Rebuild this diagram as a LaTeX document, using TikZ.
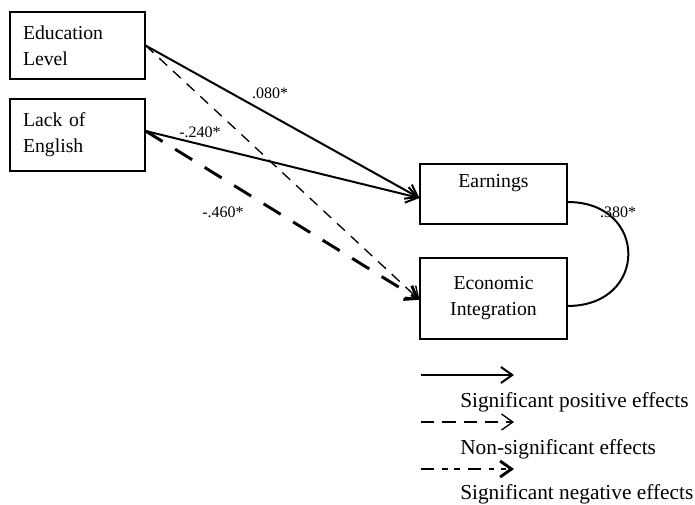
\documentclass[tikz,border=0pt]{standalone}
\usepackage{fontspec}
\setmainfont{Liberation Serif}
\usetikzlibrary{arrows.meta}

\begin{document}
\begin{tikzpicture}[x=0.75pt,y=-0.75pt,
	>={Straight Barb[length=8.5pt,width=12pt]},
	box/.style={draw,line width=0.9pt,minimum width=101.25pt,font=\fontsize{14.8}{19.5}\selectfont},
	sigpos/.style={->,line width=1.5pt},
	nonsig/.style={->,line width=1pt,dash pattern=on 8pt off 6pt},
	signeg/.style={->,line width=2.2pt,dash pattern=on 15pt off 11pt},
	coef/.style={inner sep=0pt,font=\fontsize{12}{14}\selectfont},
	legtext/.style={anchor=base west,inner sep=0pt,font=\fontsize{16}{18}\selectfont}]
				\useasboundingbox (0,0) rectangle (695,504);
				% Boîtes
				\node[box,minimum height=50.25pt,text width=81.75pt,inner xsep=9.75pt,align=left] (edu) at (77.5,45.5) {Education\\Level};
				\node[box,minimum height=54pt,text width=81.75pt,inner xsep=9.75pt,align=left] (lack) at (77.5,135) {Lack of\\English};
				\node[box,minimum width=110.25pt,minimum height=45pt,align=center] (earn) at (493.5,194) {Earnings\\~};
				\node[box,minimum width=110.25pt,minimum height=60.75pt,align=center] (econ) at (493.5,298.5) {Economic\\Integration};
				% Flèches
				\draw[sigpos] (edu.east) -- ([yshift=-3pt]earn.west);
				\draw[sigpos] ([yshift=3pt]lack.east) -- ([yshift=-3pt]earn.west);
				\draw[nonsig] (edu.east) -- ([yshift=-1pt]econ.west);
				\draw[signeg] ([yshift=3pt]lack.east) -- ([yshift=-1pt]econ.west);
				\draw[line width=1.5pt] ([yshift=-6pt]earn.east) .. controls +(81,0) and +(81,0) .. ([yshift=-5.6pt]econ.east);
				\node[coef] (c1) at (270,93) {.080*};
				\node[coef] (c2) at (200,132) {-.240*};
				\node[coef] (c3) at (223,212) {-.460*};
				\node[coef] (c4) at (618,212) {.380*};
				% Légende
				\coordinate (l1a) at (421,375); \coordinate (l1b) at (514,375);
				\coordinate (l2a) at (421,422); \coordinate (l2b) at (514,422);
				\coordinate (l3a) at (421,469); \coordinate (l3b) at (514,469);
				\draw[sigpos] (l1a) -- (l1b);
				\draw[nonsig,dash pattern=on 10pt off 6pt] (l2a) -- (l2b);
				\draw[signeg,dash pattern=on 10pt off 6pt on 4pt off 5pt on 4pt off 6pt] (l3a) -- (l3b);
				\node[legtext] (t1) at (460,407) {Significant positive effects};
				\node[legtext] (t2) at (460,454) {Non-significant effects};
				\node[legtext] (t3) at (460,499) {Significant negative effects};
\end{tikzpicture}
\end{document}
